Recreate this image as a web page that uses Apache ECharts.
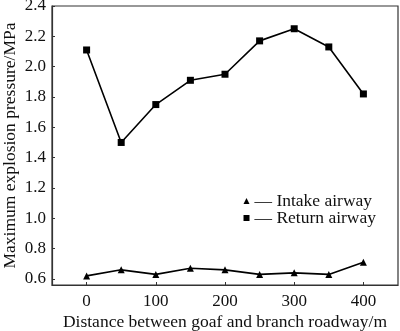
<!DOCTYPE html>
<html><head><meta charset="utf-8">
<script src="https://cdn.jsdelivr.net/npm/echarts@6/dist/echarts.min.js"></script>
<style>html,body{margin:0;padding:0;background:#fff}#c{width:400px;height:331px}</style>
</head><body><div id="c"></div>
<script>
const distances = [0, 50, 100, 150, 200, 250, 300, 350, 400];
const intake = [0.62, 0.66, 0.63, 0.67, 0.66, 0.63, 0.64, 0.63, 0.71];
const ret = [2.11, 1.50, 1.75, 1.91, 1.95, 2.17, 2.25, 2.13, 1.82];
const xTicks = [0, 100, 200, 300, 400];
const yTicks = [0.6, 0.8, 1.0, 1.2, 1.4, 1.6, 1.8, 2.0, 2.2, 2.4];
const seriesNames = ['Intake airway', 'Return airway'];
const xTitle = 'Distance between goaf and branch roadway/m';
const yTitle = 'Maximum explosion pressure/MPa';

const font = 'Liberation Serif';
const chart = echarts.init(document.getElementById('c'), null, {renderer: 'canvas'});
const pair = arr => distances.map((d, i) => [d, arr[i]]);
chart.setOption({
  animation: false,
  backgroundColor: '#fff',
  grid: {left: 52, right: 2, top: 6, bottom: 46, show: true, borderColor: '#333', borderWidth: 1.2,
         containLabel: false, outerBoundsMode: 'none'},
  xAxis: {
    type: 'value', min: -50, max: 450,
    name: xTitle, nameLocation: 'middle', nameGap: 28, nameMoveOverlap: false,
    nameTextStyle: {fontFamily: font, fontSize: 17.5, color: '#111'},
    axisLine: {show: true, onZero: false, lineStyle: {color: '#333', width: 1.2}},
    axisTick: {show: true, inside: true, length: 3, customValues: xTicks, lineStyle: {color: '#333'}},
    axisLabel: {customValues: xTicks, fontFamily: font, fontSize: 17, color: '#111', margin: 8},
    splitLine: {show: false}
  },
  yAxis: {
    type: 'value', min: 0.56, max: 2.4,
    name: yTitle, nameLocation: 'middle', nameGap: 33, nameMoveOverlap: false,
    nameTextStyle: {fontFamily: font, fontSize: 17.5, color: '#111'},
    axisLine: {show: true, onZero: false, lineStyle: {color: '#333', width: 1.2}},
    axisTick: {show: true, inside: true, length: 3, customValues: yTicks, lineStyle: {color: '#333'}},
    axisLabel: {customValues: yTicks, fontFamily: font, fontSize: 17, color: '#111', margin: 6,
      formatter: v => v.toFixed(1)},
    splitLine: {show: false}
  },
  legend: {
    right: 19, top: 187, orient: 'vertical', itemGap: -1, itemWidth: 6, itemHeight: 6,
    textStyle: {fontFamily: font, fontSize: 17.5, color: '#111'},
    formatter: n => '— ' + n,
    data: [{name: seriesNames[0], icon: 'triangle'}, {name: seriesNames[1], icon: 'rect'}]
  },
  series: [
    {name: seriesNames[0], type: 'line', data: pair(intake), symbol: 'triangle', symbolSize: 7,
     lineStyle: {color: '#000', width: 1.6}, itemStyle: {color: '#000'}},
    {name: seriesNames[1], type: 'line', data: pair(ret), symbol: 'rect', symbolSize: 7,
     lineStyle: {color: '#000', width: 1.6}, itemStyle: {color: '#000'}}
  ]
});
</script></body></html>
